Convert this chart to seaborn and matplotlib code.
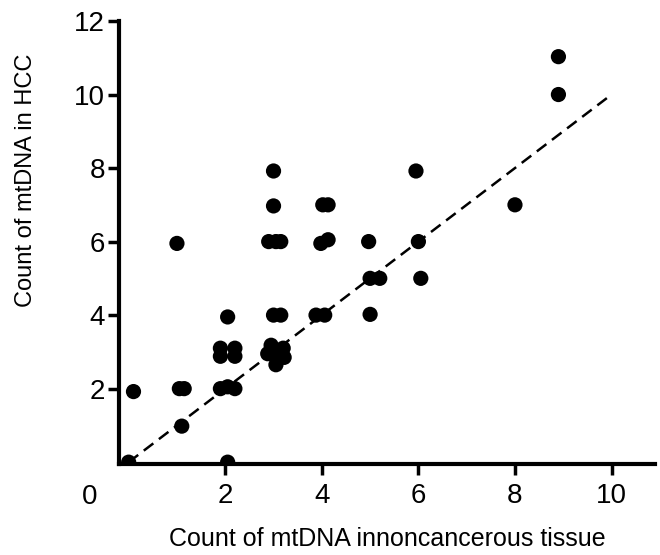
import matplotlib
matplotlib.use("Agg")
import pandas as pd
import seaborn as sb
import matplotlib.pyplot as plt

# mtDNA counts (noncancerous tissue vs HCC)
noncancer = [0.0, 0.1, 1.05, 1.15, 1.1, 1.0,
             1.9, 2.05, 2.2, 2.05,
             1.9, 2.2, 1.9, 2.2, 2.05,
             2.95, 3.2, 2.88, 3.22, 3.05, 3.05,
             3.0, 3.15,
             2.9, 3.05, 3.15, 3.0, 3.0,
             3.88, 4.06, 4.02, 4.13, 3.98, 4.13,
             5.0, 5.0, 5.2, 4.97,
             6.0, 6.05, 5.95, 8.0, 8.9, 8.9]
hcc = [0.0, 1.92, 2.0, 2.0, 0.98, 5.95,
       2.0, 2.05, 2.0, 0.0,
       3.1, 3.1, 2.88, 2.88, 3.95,
       3.18, 3.1, 2.95, 2.85, 2.65, 3.0,
       4.0, 4.0,
       6.0, 6.0, 6.0, 6.97, 7.92,
       4.0, 4.0, 7.0, 7.0, 5.95, 6.05,
       4.02, 5.0, 5.0, 6.0,
       6.0, 5.0, 7.92, 7.0, 11.03, 10.0]

# dashed reference line
line_x = [0, 10]
line_y = [0, 10]

x_ticks = [2, 4, 6, 8, 10]
y_ticks = [2, 4, 6, 8, 10, 12]

df = pd.DataFrame({"noncancer": noncancer, "hcc": hcc})
ref = pd.DataFrame({"x": line_x, "y": line_y})

sb.set_style("ticks")
plt.rcParams["font.family"] = ["Liberation Sans", "DejaVu Sans"]
plt.rcParams["text.color"] = "black"
plt.rcParams["axes.labelcolor"] = "black"
plt.rcParams["xtick.color"] = "black"
plt.rcParams["ytick.color"] = "black"

fig = plt.figure(figsize=(6.6, 5.55), dpi=100)
ax = fig.add_axes([119 / 660, 1 - 464 / 555, 536 / 660, 443 / 555])

sb.lineplot(data=ref, x="x", y="y", ax=ax, color="black", lw=1.8,
            dashes=False, linestyle=(0, (4.8, 2.8)))
sb.scatterplot(data=df, x="noncancer", y="hcc", ax=ax, color="black",
               s=120, edgecolor="none", linewidth=0, zorder=3)

ax.set_xlim(-0.2, 10.9)
ax.set_ylim(-0.05, 12)
ax.set_xticks(x_ticks)
ax.set_yticks(y_ticks)
ax.tick_params(axis="both", width=2.5, length=8, labelsize=20, color="black",
               labelcolor="black")
ax.tick_params(axis="y", pad=2)
ax.tick_params(axis="x", pad=6)

for side in ["top", "right"]:
    ax.spines[side].set_visible(False)
for side in ["left", "bottom"]:
    ax.spines[side].set_linewidth(3)
    ax.spines[side].set_color("black")

ax.set_xlabel("Count of mtDNA innoncancerous tissue", fontsize=18)
ax.set_ylabel("Count of mtDNA in HCC", fontsize=17)
ax.xaxis.set_label_coords(0.501, -0.142)
ax.yaxis.set_label_coords(-0.153, 0.641)

fig.text(90 / 660, 1 - 497 / 555, "0", fontsize=20, ha="center", va="center")

fig.savefig("out.png", dpi=100)
